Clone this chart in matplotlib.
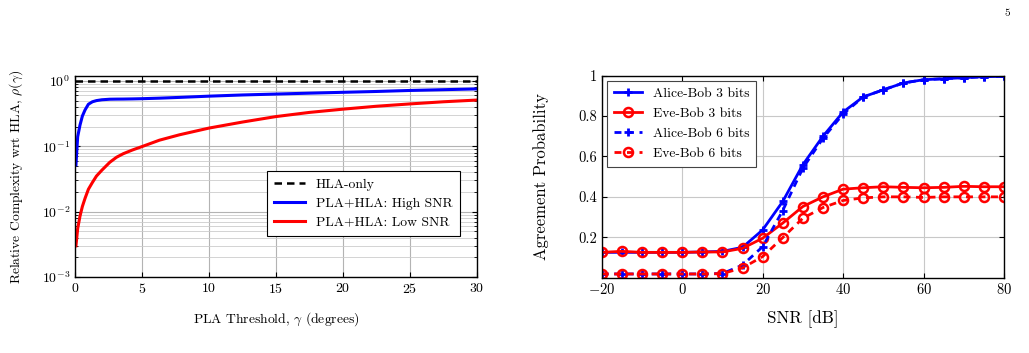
import numpy as np
import matplotlib
matplotlib.use("Agg")
import matplotlib.pyplot as plt
from matplotlib.ticker import LogLocator

plt.rcParams['font.family'] = 'serif'
plt.rcParams['font.serif'] = ['cmr10', 'DejaVu Serif']
plt.rcParams['mathtext.fontset'] = 'cm'
plt.rcParams['axes.formatter.use_mathtext'] = True
plt.rcParams['axes.unicode_minus'] = True

## left panel: relative complexity vs PLA threshold
gamma = [0.07, 0.2, 0.37, 0.55, 0.75, 1.0, 1.3, 1.6, 2.0, 2.6, 3.1, 3.6, 4.3, 5.0, 6.3, 7.8, 10.0, 12.5, 15.0, 17.5, 20.0, 22.5, 25.0, 27.5, 30.0]
high_snr = [0.052, 0.14, 0.21, 0.29, 0.36, 0.44, 0.48, 0.50, 0.515, 0.525, 0.527, 0.528, 0.531, 0.535, 0.545, 0.56, 0.585, 0.61, 0.63, 0.65, 0.67, 0.69, 0.715, 0.735, 0.755]
low_snr = [0.0030, 0.0055, 0.0085, 0.012, 0.016, 0.022, 0.028, 0.035, 0.043, 0.057, 0.068, 0.077, 0.088, 0.099, 0.124, 0.15, 0.19, 0.235, 0.285, 0.33, 0.37, 0.41, 0.445, 0.48, 0.51]
hla_only = 1.0

## right panel: agreement probability vs SNR
snr = [-20, -15, -10, -5, 0, 5, 10, 15, 20, 25, 30, 35, 40, 45, 50, 55, 60, 65, 70, 75, 80]
alice3 = [0.125, 0.125, 0.125, 0.125, 0.125, 0.127, 0.13, 0.15, 0.236, 0.377, 0.559, 0.70, 0.82, 0.895, 0.93, 0.964, 0.98, 0.985, 0.99, 0.995, 0.997]
eve3 = [0.125, 0.13, 0.125, 0.125, 0.125, 0.127, 0.127, 0.145, 0.195, 0.27, 0.352, 0.40, 0.438, 0.445, 0.45, 0.447, 0.445, 0.447, 0.452, 0.45, 0.45]
alice6 = [0.018, 0.018, 0.018, 0.018, 0.018, 0.018, 0.02, 0.062, 0.153, 0.332, 0.542, 0.69, 0.81, 0.895, 0.93, 0.964, 0.98, 0.985, 0.99, 0.995, 0.997]
eve6 = [0.018, 0.018, 0.018, 0.018, 0.018, 0.018, 0.02, 0.048, 0.104, 0.198, 0.294, 0.347, 0.382, 0.395, 0.40, 0.40, 0.397, 0.40, 0.40, 0.40, 0.40]

fig = plt.figure(figsize=(10.29, 3.53), dpi=100)
W, H = 1029., 353.

## left axes
ax1 = fig.add_axes([75/W, 1-277/H, 402/W, 201/H])
ax1.plot([0, 30], [hla_only, hla_only], 'k--', lw=1.8, dashes=(3, 2), label='HLA-only')
ax1.plot(gamma, high_snr, color='blue', lw=2.2, label='PLA+HLA: High SNR')
ax1.plot(gamma, low_snr, color='red', lw=2.2, label='PLA+HLA: Low SNR')
ax1.set_yscale('log')
ax1.set_xlim(0, 30)
ax1.set_ylim(1e-3, 1.19)
ax1.set_xticks([0, 5, 10, 15, 20, 25, 30])
ax1.yaxis.set_major_locator(LogLocator(base=10, numticks=10))
ax1.yaxis.set_minor_locator(LogLocator(base=10, subs=np.arange(2, 10), numticks=20))
ax1.grid(True, which='major', color='#b3b3b3', lw=0.8)
ax1.grid(True, which='minor', axis='y', color='#cccccc', lw=0.6)
ax1.tick_params(which='both', direction='in', top=True, right=True, labelsize=10)
ax1.set_xlabel(r'PLA Threshold, $\gamma$ (degrees)', fontsize=9.8, labelpad=10)
ax1.set_ylabel(r'Relative Complexity wrt HLA, $\rho(\gamma)$', fontsize=9.8, labelpad=12)
for s in ax1.spines.values():
    s.set_linewidth(1.0)
leg1 = ax1.legend(loc='lower right', bbox_to_anchor=(0.958, 0.204), borderaxespad=0,
                  fontsize=9.8, fancybox=False, edgecolor='black', framealpha=1,
                  handlelength=2.25, borderpad=0.55, labelspacing=0.45)
leg1.get_frame().set_linewidth(0.8)

## right axes
ax2 = fig.add_axes([601.7/W, 1-277.6/H, 402.3/W, 201.9/H])
ax2.plot(snr, alice3, '-', color='blue', lw=2.0, marker='+', ms=6, mew=2, label='Alice-Bob 3 bits')
ax2.plot(snr, eve3, '-', color='red', lw=2.0, marker='o', ms=6.5, mew=1.8, mfc='none', label='Eve-Bob 3 bits')
ax2.plot(snr, alice6, '--', color='blue', lw=2.0, dashes=(2.5, 2), marker='+', ms=6, mew=2, label='Alice-Bob 6 bits')
ax2.plot(snr, eve6, '--', color='red', lw=2.0, dashes=(2.5, 2), marker='o', ms=6.5, mew=1.8, mfc='none', label='Eve-Bob 6 bits')
ax2.set_xlim(-20, 80)
ax2.set_ylim(0, 1)
ax2.set_xticks([-20, 0, 20, 40, 60, 80])
ax2.set_yticks([0.2, 0.4, 0.6, 0.8, 1.0])
ax2.set_yticklabels(['0.2', '0.4', '0.6', '0.8', '1'])
ax2.grid(True, color='#c8c8c8', lw=0.8)
ax2.tick_params(direction='in', top=True, right=True, labelsize=10.5)
ax2.set_xlabel('SNR [dB]', fontsize=12.3, labelpad=9)
ax2.set_ylabel('Agreement Probability', fontsize=12, labelpad=21)
for s in ax2.spines.values():
    s.set_linewidth(1.0)
leg2 = ax2.legend(loc='upper left', bbox_to_anchor=(0.0125, 0.975), borderaxespad=0,
                  fontsize=9.8, fancybox=False, edgecolor='#444444', framealpha=1,
                  handlelength=2.1, borderpad=0.5, labelspacing=0.55)
leg2.get_frame().set_linewidth(0.8)

fig.text(1007/W, 1-13/H, '5', fontsize=8, ha='center', va='center')

fig.savefig('out.png', dpi=100)
